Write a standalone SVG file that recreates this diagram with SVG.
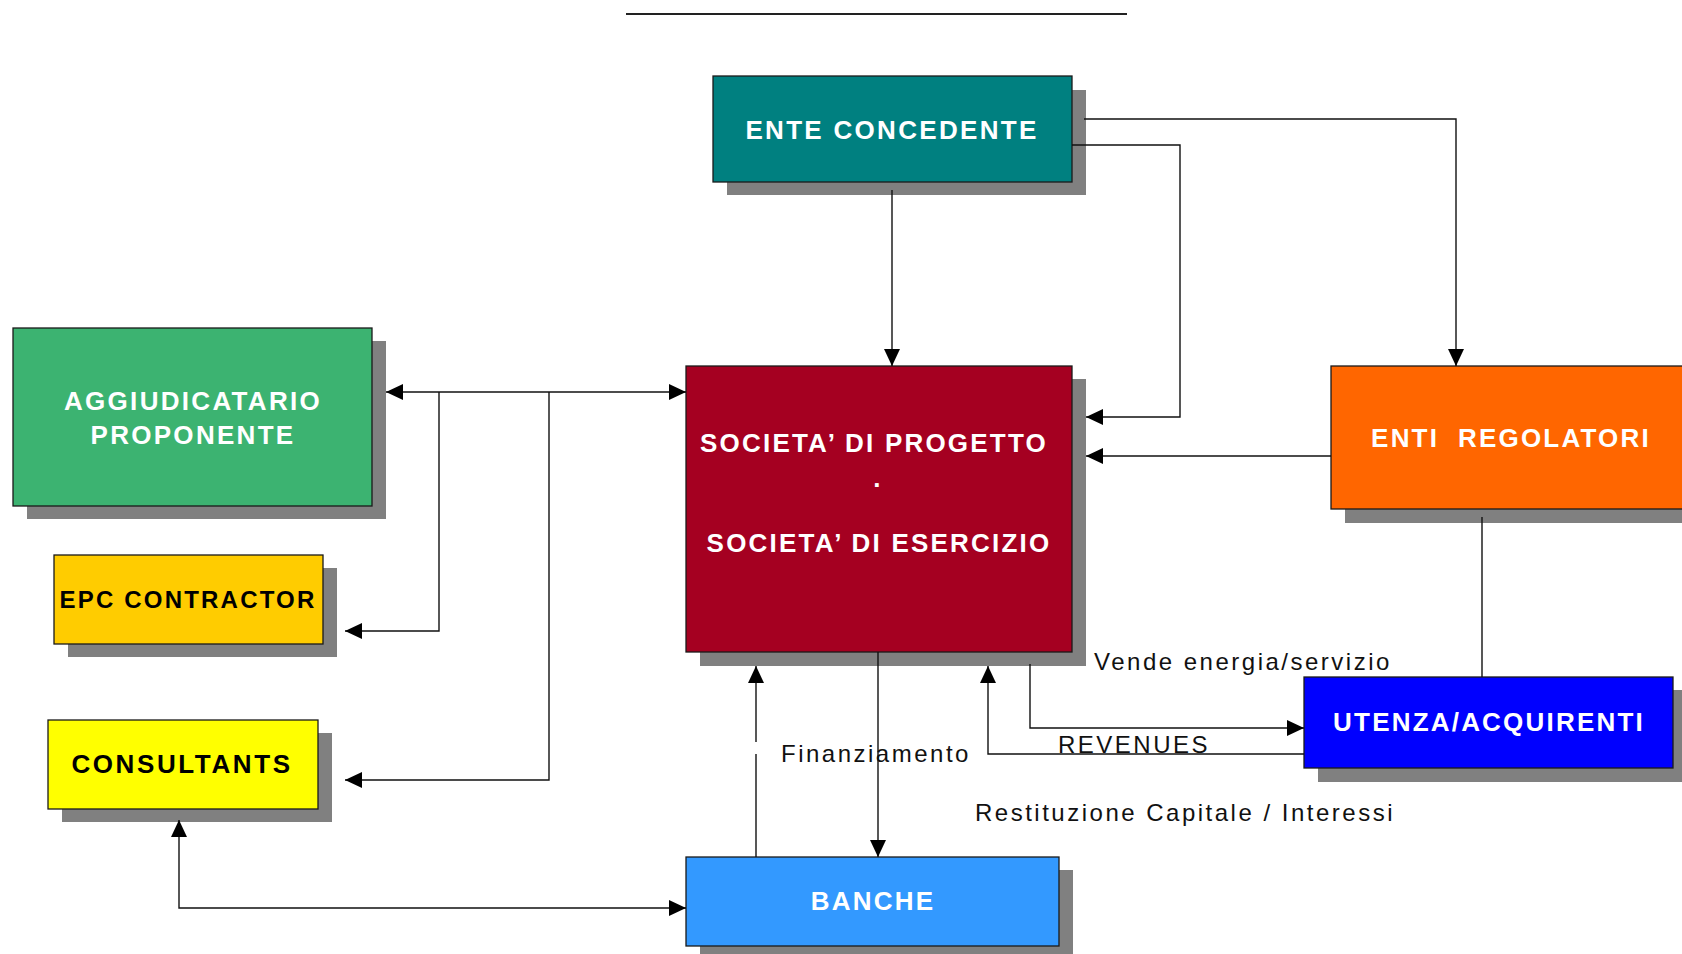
<svg xmlns="http://www.w3.org/2000/svg" width="1682" height="954" viewBox="0 0 1682 954">
<style>
.sh{fill:#808080}
.bx{stroke:#1a1a1a;stroke-width:1.3}
.t{font-family:"Liberation Sans",Arial,sans-serif;font-weight:bold;font-size:26px;letter-spacing:2.3px;text-anchor:middle;white-space:pre}
.w{fill:#ffffff}
.k{fill:#000000}
.lb{font-family:"Liberation Sans",Arial,sans-serif;font-size:24px;letter-spacing:2.5px;fill:#111}
.c{fill:none;stroke:#111;stroke-width:1.4}
</style>
<defs>
<marker id="ah" markerUnits="userSpaceOnUse" markerWidth="18" markerHeight="16" refX="17" refY="8" orient="auto-start-reverse">
<path d="M0,0 L17,8 L0,16 z" fill="#000"/>
</marker>
</defs>
<rect width="1682" height="954" fill="#ffffff"/>
<line x1="626" y1="14" x2="1127" y2="14" stroke="#222" stroke-width="2"/>

<g id="labels">
<text class="lb" x="1094" y="670">Vende energia/servizio</text>
<text class="lb" x="1058" y="753">REVENUES</text>
<text class="lb" x="781" y="762">Finanziamento</text>
<text class="lb" x="975" y="821">Restituzione Capitale / Interessi</text>
</g>

<g id="ente-concedente">
<rect class="sh" x="727" y="90" width="359" height="105"/>
<rect class="bx" x="713" y="76" width="359" height="106" fill="#008080"/>
<text class="t w" x="892" y="139">ENTE CONCEDENTE</text>
</g>

<g id="aggiudicatario">
<rect class="sh" x="27" y="341" width="359" height="178"/>
<rect class="bx" x="13" y="328" width="359" height="178" fill="#3CB371"/>
<text class="t w" x="193" y="410">AGGIUDICATARIO</text>
<text class="t w" x="193" y="444">PROPONENTE</text>
</g>

<g id="epc-contractor">
<rect class="sh" x="68" y="568" width="269" height="89"/>
<rect class="bx" x="54" y="555" width="269" height="89" fill="#FFCC00"/>
<text class="t k" x="188" y="608" style="font-size:24px;letter-spacing:2.2px">EPC CONTRACTOR</text>
</g>

<g id="consultants">
<rect class="sh" x="62" y="733" width="270" height="89"/>
<rect class="bx" x="48" y="720" width="270" height="89" fill="#FFFF00"/>
<text class="t k" x="182" y="773" style="letter-spacing:2.6px">CONSULTANTS</text>
</g>

<g id="societa">
<rect class="sh" x="700" y="379" width="386" height="287"/>
<rect class="bx" x="686" y="366" width="386" height="286" fill="#A50021"/>
<text class="t w" x="874" y="452" style="letter-spacing:2.2px">SOCIETA’ DI PROGETTO</text>
<text class="t w" x="878" y="487">.</text>
<text class="t w" x="879" y="552" style="letter-spacing:2.2px">SOCIETA’ DI ESERCIZIO</text>
</g>

<g id="enti-regolatori">
<rect class="sh" x="1345" y="380" width="360" height="143"/>
<rect class="bx" x="1331" y="366" width="360" height="143" fill="#FF6600"/>
<text class="t w" x="1511" y="447" style="letter-spacing:2.2px">ENTI  REGOLATORI</text>
</g>

<g id="utenza">
<rect class="sh" x="1318" y="690" width="369" height="92"/>
<rect class="bx" x="1304" y="677" width="369" height="91" fill="#0000FF"/>
<text class="t w" x="1489" y="731" style="letter-spacing:2.2px">UTENZA/ACQUIRENTI</text>
</g>

<g id="banche">
<rect class="sh" x="700" y="870" width="373" height="90"/>
<rect class="bx" x="686" y="857" width="373" height="89" fill="#3399FF"/>
<text class="t w" x="873" y="910" style="letter-spacing:2.2px">BANCHE</text>
</g>

<g id="connectors">
<line class="c" x1="892" y1="190" x2="892" y2="366" marker-end="url(#ah)"/>
<polyline class="c" points="1084,119 1456,119 1456,366" marker-end="url(#ah)"/>
<polyline class="c" points="1072,145 1180,145 1180,417 1086,417" marker-end="url(#ah)"/>
<line class="c" x1="1331" y1="456" x2="1086" y2="456" marker-end="url(#ah)"/>
<line class="c" x1="1482" y1="517" x2="1482" y2="677"/>
<polyline class="c" points="1030,664 1030,728 1304,728" marker-end="url(#ah)"/>
<polyline class="c" points="1304,754 988,754 988,666" marker-end="url(#ah)"/>
<line class="c" x1="756" y1="857" x2="756" y2="754"/>
<line class="c" x1="756" y1="742" x2="756" y2="666" marker-end="url(#ah)"/>
<line class="c" x1="878" y1="652" x2="878" y2="857" marker-end="url(#ah)"/>
<polyline class="c" points="179,820 179,908 686,908" marker-start="url(#ah)" marker-end="url(#ah)"/>
<line class="c" x1="386" y1="392" x2="686" y2="392" marker-start="url(#ah)" marker-end="url(#ah)"/>
<polyline class="c" points="439,392 439,631 345,631" marker-end="url(#ah)"/>
<polyline class="c" points="549,392 549,780 345,780" marker-end="url(#ah)"/>
</g>
</svg>
